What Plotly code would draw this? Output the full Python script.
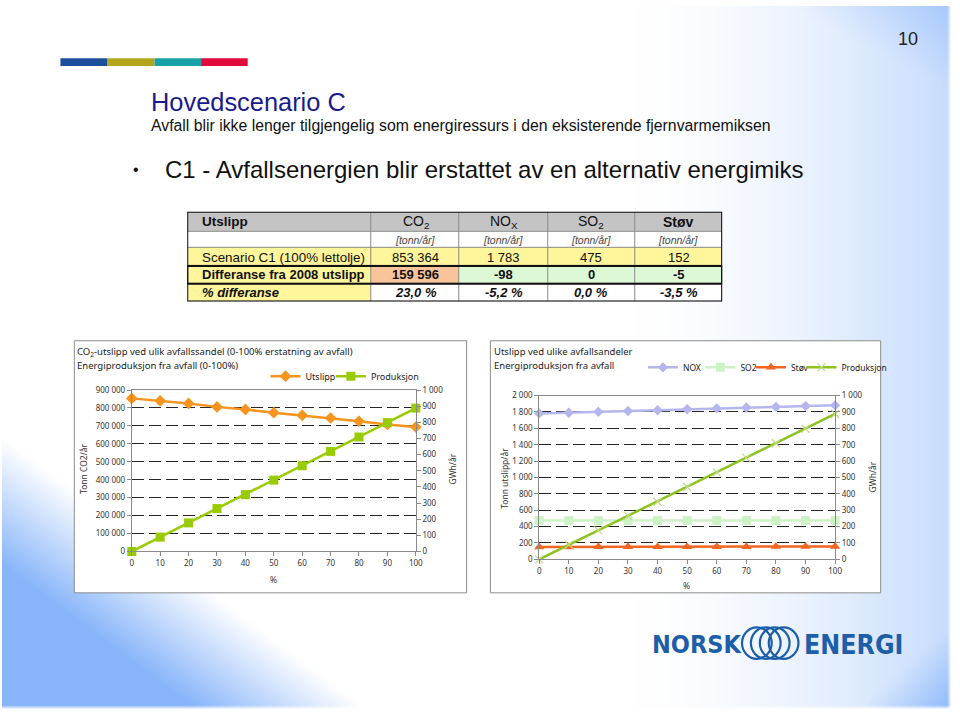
import zlib, struct, base64
import numpy as np
import plotly.graph_objects as go

W, H = 960, 716
def px(x): return x / W
def py(y): return 1 - y / H

# ---------------- data ----------------
pct = [0, 10, 20, 30, 40, 50, 60, 70, 80, 90, 100]
co2_utslipp = [853364, 839500, 825000, 806000, 792000, 773500, 759000, 744000, 726000, 708000, 693768]
produksjon = [0, 89, 177, 266, 352, 442, 531, 620, 709, 798, 888]
nox = [1783, 1790, 1802, 1812, 1822, 1834, 1844, 1854, 1862, 1872, 1881]
so2 = [475, 475, 475, 475, 475, 475, 475, 475, 475, 475, 475]
stov = [152, 152, 153, 153, 154, 154, 155, 155, 156, 156, 157]

tbl_components = ["CO<sub>2</sub>", "NO<sub>X</sub>", "SO<sub>2</sub>", "<b>Støv</b>"]
tbl_unit = "[tonn/år]"
tbl_row_labels = ["Scenario C1 (100% lettolje)", "Differanse fra 2008 utslipp", "% differanse"]
scenario_vals = [853364, 1783, 475, 152]
diff_vals = [159596, -98, 0, -5]
pct_diff_vals = [23.0, -5.2, 0.0, -3.5]

def fmt_int(v):
    return f"{v:,d}".replace(",", " ")
def fmt_pct(v):
    return f"{v:.1f} %".replace(".", ",")

# ---------------- background gradient ----------------
gw, gh = 240, 179
X, Y = np.meshgrid(np.linspace(0, W, gw), np.linspace(0, H, gh))
t_right = np.clip((X - 640) / 320, 0, 1) ** 1.6 * 0.45
t_tr = np.clip((X - 0.9 * Y - 760) / 200, 0, 1) * 0.7
t_br = np.clip((X + 0.8 * Y - 1400) / 140, 0, 1) * 0.95
t_bl = np.clip((Y - 0.75 * X - 440) / 130, 0, 1) * 0.95
t = np.maximum.reduce([t_right, t_tr, t_br, t_bl])
t[(X > 956) | (Y > 713)] = 0
blue = np.array([130, 178, 250])
img = (255 * (1 - t[..., None]) + blue * t[..., None]).astype(np.uint8)
raw = b"".join(b"\x00" + img[r].tobytes() for r in range(gh))
def chunk(tag, d):
    return struct.pack(">I", len(d)) + tag + d + struct.pack(">I", zlib.crc32(tag + d) & 0xffffffff)
png = (b"\x89PNG\r\n\x1a\n" + chunk(b"IHDR", struct.pack(">IIBBBBB", gw, gh, 8, 2, 0, 0, 0))
       + chunk(b"IDAT", zlib.compress(raw)) + chunk(b"IEND", b""))
bg_uri = "data:image/png;base64," + base64.b64encode(png).decode()

fig = go.Figure()

# ---------------- table (heatmap cells on its own axes) ----------------
col_edges = [0, 186, 275, 364, 452, 540]      # layout: column boundaries (px)
row_edges = [0, 20, 37, 55, 73, 91]           # layout: row boundaries (px)
GRAY, WHITE, YEL, PEACH, GRN = 0, 1, 2, 3, 4
cell_codes = [
    [GRAY, GRAY, GRAY, GRAY, GRAY],
    [WHITE, WHITE, WHITE, WHITE, WHITE],
    [YEL, YEL, YEL, YEL, YEL],
    [YEL, PEACH, GRN, GRN, GRN],
    [YEL, WHITE, WHITE, WHITE, WHITE],
]
cs = ["#c4c4c4", "#ffffff", "#fff59a", "#f9c49a", "#dcf8d4"]
colorscale = []
for i, c in enumerate(cs):
    colorscale += [[max(0, (i - 0.5) / 4), c], [min(1, (i + 0.5) / 4), c]]
fig.add_trace(go.Heatmap(z=cell_codes, x=col_edges, y=row_edges, zmin=0, zmax=4,
                         colorscale=colorscale, showscale=False, xgap=1, ygap=1,
                         hoverinfo="skip", xaxis="x3", yaxis="y5"))

# ---------------- left chart ----------------
fig.add_trace(go.Scatter(x=pct, y=co2_utslipp, name="Utslipp", mode="lines+markers",
                         line=dict(color="#f7941e", width=2.5),
                         marker=dict(symbol="diamond", size=9, color="#f7941e"),
                         xaxis="x", yaxis="y", cliponaxis=False, legend="legend", showlegend=True))
fig.add_trace(go.Scatter(x=pct, y=produksjon, name="Produksjon", mode="lines+markers",
                         line=dict(color="#99cc00", width=2.5),
                         marker=dict(symbol="square", size=9, color="#99cc00"),
                         xaxis="x", yaxis="y2", cliponaxis=False, legend="legend2", showlegend=True))

# ---------------- right chart ----------------
fig.add_trace(go.Scatter(x=pct, y=nox, name="NOX", mode="lines+markers",
                         line=dict(color="#b6b6ef", width=2.5),
                         marker=dict(symbol="diamond", size=8, color="#b6b6ef"),
                         xaxis="x2", yaxis="y3", cliponaxis=False, legend="legend3", showlegend=True))
fig.add_trace(go.Scatter(x=pct, y=so2, name="SO2", mode="lines+markers",
                         line=dict(color="#ccf2c6", width=2.5),
                         marker=dict(symbol="square", size=9, color="#ccf2c6"),
                         xaxis="x2", yaxis="y3", cliponaxis=False, legend="legend4", showlegend=True))
fig.add_trace(go.Scatter(x=pct, y=stov, name="Støv", mode="lines+markers",
                         line=dict(color="#f26522", width=2.5),
                         marker=dict(symbol="triangle-up", size=9, color="#f26522"),
                         xaxis="x2", yaxis="y3", cliponaxis=False, legend="legend5", showlegend=True))
fig.add_trace(go.Scatter(x=pct, y=produksjon, name="Produksjon", mode="lines+markers",
                         line=dict(color="#8dc21f", width=2.5),
                         marker=dict(symbol="x-thin", size=8, line=dict(color="#c4d88a", width=1.2)),
                         xaxis="x2", yaxis="y4", cliponaxis=False, legend="legend6", showlegend=True))

tickfont = dict(family="Noto Sans", size=8, color="#333")
axline = "#8a8a8a"
grid = dict(showgrid=True, gridcolor="#262626", gridwidth=1, griddash="12px,5px")
common_x = dict(range=[0, 100], tickvals=pct, showline=True, linecolor=axline, mirror=True,
                ticks="outside", ticklen=4, tickcolor=axline, tickfont=tickfont,
                showgrid=False, zeroline=False, fixedrange=True)
common_y = dict(showline=True, linecolor=axline, ticks="outside", ticklen=4, tickcolor=axline,
                tickfont=tickfont, zeroline=False, tickformat=",", fixedrange=True)

def leg(text_x, y, size=9):
    return dict(x=px(text_x - 34), y=py(y), xanchor="left", yanchor="middle", orientation="h",
                font=dict(family="Noto Sans", size=size, color="#222"), bgcolor="rgba(0,0,0,0)",
                itemwidth=30)

fig.update_layout(
    width=W, height=H, margin=dict(l=0, r=0, t=0, b=0),
    paper_bgcolor="white", plot_bgcolor="rgba(0,0,0,0)",
    separators=", ", showlegend=True,
    xaxis=dict(domain=[px(131), px(417.7)], anchor="y", **common_x),
    yaxis=dict(domain=[py(554), py(390)], anchor="x", range=[0, 900000], dtick=100000,
               **grid, **common_y),
    yaxis2=dict(overlaying="y", anchor="x", side="right", range=[0, 1000], dtick=100,
                showgrid=False, **common_y),
    xaxis2=dict(domain=[px(542.3), px(841)], anchor="y3", **common_x),
    yaxis3=dict(domain=[py(562), py(395.7)], anchor="x2", range=[0, 2000], dtick=200,
                **grid, **common_y),
    yaxis4=dict(overlaying="y3", anchor="x2", side="right", range=[0, 1000], dtick=100,
                showgrid=False, **common_y),
    xaxis3=dict(domain=[px(187), px(727)], anchor="y5", range=[0, 540], visible=False, fixedrange=True),
    yaxis5=dict(domain=[py(300), py(209)], anchor="x3", range=[91, 0], visible=False, fixedrange=True),
    legend=leg(300, 376),
    legend2=leg(366, 376),
    legend3=leg(681, 367, 8.5),
    legend4=leg(739, 367, 8.5),
    legend5=leg(790, 367, 8.5),
    legend6=leg(841, 367, 8.5),
    images=[dict(source=bg_uri, xref="paper", yref="paper", x=0, y=1, sizex=1, sizey=1,
                 xanchor="left", yanchor="top", sizing="stretch", layer="below")],
)

shapes = []
# colour bar
for (x0, x1, c) in [(59, 106, "#1b4f9c"), (106, 154, "#b3a61c"), (154, 201, "#19a1a8"), (201, 248, "#e2093d")]:
    shapes.append(dict(type="rect", xref="paper", yref="paper", x0=px(x0), x1=px(x1), y0=py(61), y1=py(53),
                       fillcolor=c, line=dict(width=0), layer="below"))
# chart frames
for (x0, x1) in [(73, 469), (493, 887)]:
    shapes.append(dict(type="rect", xref="paper", yref="paper", x0=px(x0), x1=px(x1), y0=py(596), y1=py(340),
                       fillcolor="white", line=dict(color="#8c8c8c", width=1), layer="below"))
# table grid background (shows through the cell gaps) and heavy borders
shapes.append(dict(type="rect", xref="x3", yref="y5", x0=col_edges[0], x1=col_edges[-1],
                   y0=row_edges[0], y1=row_edges[-1], fillcolor="#8a8a8a", line=dict(width=0), layer="below"))
shapes.append(dict(type="rect", xref="x3", yref="y5", x0=col_edges[0], x1=col_edges[-1],
                   y0=row_edges[0], y1=row_edges[-1], line=dict(color="#111", width=2), layer="above"))
shapes.append(dict(type="rect", xref="x3", yref="y5", x0=col_edges[0], x1=col_edges[-1],
                   y0=row_edges[3], y1=row_edges[4], line=dict(color="#111", width=2), layer="above"))
# logo rings
for cx in [762, 771, 780, 789]:
    shapes.append(dict(type="circle", xref="paper", yref="paper", x0=px(cx - 15), x1=px(cx + 15),
                       y0=py(663), y1=py(631), line=dict(color="#1d5ea8", width=2.2)))
fig.update_layout(shapes=shapes)

def ann(text, x, y, size, color="#222", family="Liberation Sans, Arial", xanchor="left", angle=0, **kw):
    return dict(text=text, x=px(x), y=py(y), xref="paper", yref="paper", showarrow=False,
                xanchor=xanchor, yanchor="middle", textangle=angle,
                font=dict(family=family, size=size, color=color), **kw)

cf = "Noto Sans"
annotations = [
    ann("10", 915, 34, 18, xanchor="center"),
    ann("Hovedscenario C", 148, 97, 25.4, color="#1a1a8a"),
    ann("Avfall blir ikke lenger tilgjengelig som energiressurs i den eksisterende fjernvarmemiksen", 148, 121, 15.8, color="#111"),
    ann("•", 130, 166, 16, color="#111"),
    ann("C1 - Avfallsenergien blir erstattet av en alternativ energimiks", 163, 166, 24, color="#111"),
    # left chart
    ann("CO<sub>2</sub>-utslipp ved ulik avfallssandel (0-100% erstatning av avfall)", 74, 351, 9.5, family=cf),
    ann("Energiproduksjon fra avfall (0-100%)", 74, 365, 9.5, family=cf),
    ann("Tonn CO2/år", 83, 470, 8.5, family=cf, xanchor="center", angle=-90, color="#333"),
    ann("GWh/år", 455, 470, 8.5, family=cf, xanchor="center", angle=-90, color="#333"),
    ann("%", 274, 582, 8.5, family=cf, xanchor="center", color="#333"),
    # right chart
    ann("Utslipp ved ulike avfallsandeler", 495, 351, 9.5, family=cf),
    ann("Energiproduksjon fra avfall", 495, 365, 9.5, family=cf),
    ann("Tonn utslipp/år", 507, 480, 8.5, family=cf, xanchor="center", angle=-90, color="#333"),
    ann("GWh/år", 879, 478, 8.5, family=cf, xanchor="center", angle=-90, color="#333"),
    ann("%", 691, 589, 8.5, family=cf, xanchor="center", color="#333"),
    # logo
    ann("<b>NORSK</b>", 654, 648, 25, color="#1d5ea8", family="DejaVu Sans Condensed, Liberation Sans Narrow, Arial"),
    ann("<b>ENERGI</b>", 808, 648, 26.5, color="#1d5ea8", family="DejaVu Sans Condensed, Liberation Sans Narrow, Arial"),
]

# table texts (placed in the table's data coordinates)
tf = "Liberation Sans, Arial"
def cell(text, col, row, size=13, color="#111", left=False):
    xc = col_edges[col] + 13 if left else (col_edges[col] + col_edges[col + 1]) / 2
    yc = (row_edges[row] + row_edges[row + 1]) / 2
    return dict(text=text, x=xc, y=yc, xref="x3", yref="y5", showarrow=False,
                xanchor="left" if left else "center", yanchor="middle",
                font=dict(family=tf, size=size, color=color))

annotations.append(cell("<b>Utslipp</b>", 0, 0, 13.5, left=True))
for i, comp in enumerate(tbl_components):
    annotations.append(cell(comp, i + 1, 0, 14))
    annotations.append(cell("<i>" + tbl_unit + "</i>", i + 1, 1, 10.5, color="#444"))
    annotations.append(cell(fmt_int(scenario_vals[i]), i + 1, 2))
    annotations.append(cell("<b>" + fmt_int(diff_vals[i]) + "</b>", i + 1, 3))
    annotations.append(cell("<b><i>" + fmt_pct(pct_diff_vals[i]) + "</i></b>", i + 1, 4))
annotations.append(cell(tbl_row_labels[0], 0, 2, 13.4, left=True))
annotations.append(cell("<b>" + tbl_row_labels[1] + "</b>", 0, 3, 13, left=True))
annotations.append(cell("<b><i>" + tbl_row_labels[2] + "</i></b>", 0, 4, 13, left=True))

fig.update_layout(annotations=annotations)

fig.write_html("out.html")
